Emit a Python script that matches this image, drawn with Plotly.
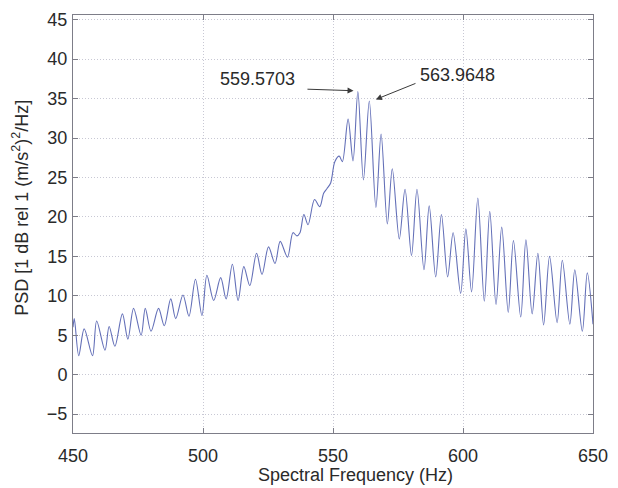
import plotly.graph_objects as go

# Spectral frequency (Hz)
freq = [450.0, 450.5, 452.2, 454.3, 457.5, 459.1, 462.3, 463.9, 466.1, 469.0,
        471.1, 473.3, 476.2, 477.8, 480.0, 482.9, 485.1, 487.6, 489.5, 492.3,
        494.6, 497.1, 499.6, 501.5, 504.1, 506.8, 508.9, 511.3, 513.5, 515.7,
        518.0, 520.6, 522.7, 525.2, 527.7, 529.7, 532.5, 534.6, 536.1, 537.3,
        538.8, 540.4, 542.9, 544.9, 546.4, 547.7, 549.1, 550.7, 552.4, 553.6,
        555.8, 557.7, 559.57, 561.7, 563.96, 566.5, 568.5, 570.9, 572.8, 575.5,
        577.7, 580.2, 582.3, 585.0, 587.0, 589.5, 591.7, 594.1, 596.2, 599.1,
        601.1, 603.3, 605.7, 608.2, 610.3, 612.7, 614.9, 617.4, 619.4, 622.2,
        624.2, 626.6, 628.8, 631.0, 633.3, 636.2, 638.2, 641.1, 643.0, 645.9,
        647.8, 650.0]

# PSD values (dB)
psd = [6.0, 7.1, 2.4, 5.8, 2.4, 6.8, 3.1, 6.1, 3.6, 7.7,
       4.5, 8.4, 5.0, 8.4, 5.5, 8.4, 6.2, 9.6, 7.1, 10.1,
       7.4, 12.1, 7.5, 12.6, 9.4, 12.3, 9.6, 14.0, 9.4, 13.7,
       11.3, 15.4, 12.7, 16.2, 14.1, 16.9, 14.9, 18.0, 17.6, 18.0,
       20.3, 19.0, 22.2, 21.3, 23.0, 23.6, 24.3, 27.0, 27.7, 27.0,
       32.4, 27.1, 35.9, 24.7, 34.7, 21.2, 30.5, 19.1, 26.1, 17.2,
       23.5, 15.1, 23.5, 13.3, 21.4, 12.4, 20.3, 12.4, 18.0, 10.3,
       18.5, 10.5, 22.4, 9.3, 20.7, 8.9, 18.7, 7.9, 17.0, 7.3,
       17.1, 7.7, 15.4, 6.3, 15.0, 6.6, 14.5, 6.4, 13.3, 5.5,
       12.9, 6.4]

peak_labels = ["559.5703", "563.9648"]
x_ticks = [450, 500, 550, 600, 650]
y_ticks = [-5, 0, 5, 10, 15, 20, 25, 30, 35, 40, 45]

assert len(freq) == len(psd)

FONT = "Liberation Sans, Arial, sans-serif"
TXT = "#2a2a2a"
AX = "#7d7d88"
GRID = "#c8c8d4"

fig = go.Figure()
fig.add_trace(go.Scatter(
    x=freq, y=psd, mode="lines",
    line=dict(color="#6470b8", width=1.1, shape="spline", smoothing=0.9),
    showlegend=False, hoverinfo="skip"))

axis_common = dict(
    showline=True, linecolor=AX, linewidth=1, mirror="ticks",
    ticks="inside", ticklen=5, tickcolor=AX,
    showgrid=True, gridcolor=GRID, griddash="1px,2px", gridwidth=1,
    zeroline=False,
    tickfont=dict(family=FONT, size=18, color=TXT),
)

fig.update_xaxes(range=[450, 650], tickvals=x_ticks, ticklabelstandoff=6, **axis_common)
fig.update_yaxes(range=[-7.4, 45.6], tickvals=y_ticks, ticklabelstandoff=1, **axis_common)

ann = []
# arrows
ann.append(dict(x=557.9, y=36.0, ax=539.6, ay=36.2, xref="x", yref="y",
                axref="x", ayref="y", text="", showarrow=True,
                arrowhead=2, arrowsize=1.2, arrowwidth=1, arrowcolor="#3a3a3a"))
ann.append(dict(x=566.5, y=34.9, ax=582.3, ay=37.0, xref="x", yref="y",
                axref="x", ayref="y", text="", showarrow=True,
                arrowhead=2, arrowsize=1.2, arrowwidth=1, arrowcolor="#3a3a3a"))
# peak texts
ann.append(dict(x=521.1, y=37.5, xref="x", yref="y", text=peak_labels[0],
                xanchor="center", yanchor="middle",
                showarrow=False, font=dict(family=FONT, size=18, color=TXT)))
ann.append(dict(x=597.8, y=38.0, xref="x", yref="y", text=peak_labels[1],
                xanchor="center", yanchor="middle",
                showarrow=False, font=dict(family=FONT, size=18, color=TXT)))
# axis titles
ann.append(dict(x=(359 - 72.7) / 527.3, y=-(475 - 433) / 423, xref="paper", yref="paper",
                xanchor="center", yanchor="middle",
                text="Spectral Frequency (Hz)", showarrow=False,
                font=dict(family=FONT, size=18, color=TXT)))
ann.append(dict(x=(20 - 72.7) / 527.3, y=(433 - 205) / 423, xref="paper", yref="paper",
                xanchor="center", yanchor="middle",
                text="PSD [1 dB rel 1 (m/s<sup>2</sup>)<sup>2</sup>/Hz]", textangle=-90,
                showarrow=False, font=dict(family=FONT, size=18, color=TXT)))

fig.update_layout(
    width=618, height=488,
    margin=dict(l=72.7, r=18, t=10, b=55),
    paper_bgcolor="white", plot_bgcolor="white",
    annotations=ann,
)

fig.write_html("out.html")
